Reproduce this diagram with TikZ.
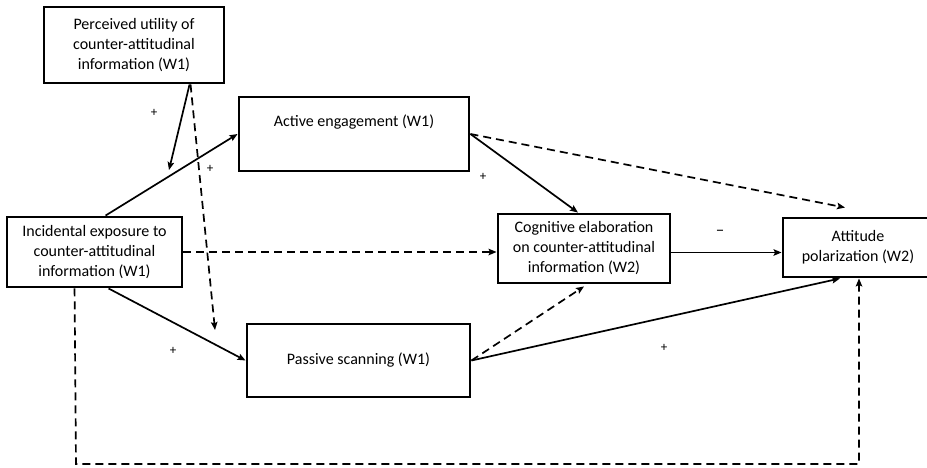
\documentclass[tikz,border=0pt]{standalone}
\usepackage{fontspec}
\setmainfont{Carlito}
\usetikzlibrary{arrows.meta}
\begin{document}
\begin{tikzpicture}[x=1pt,y=-1pt,
  box/.style={draw=black,line width=2.9pt,rectangle,align=center,inner sep=0pt,
    font=\fontsize{16}{20}\selectfont},
  arr/.style={line width=1.7pt,-{Stealth[length=8pt,width=6.5pt,inset=1.5pt]}},
  dsh/.style={arr,dash pattern=on 8pt off 5pt},
  sign/.style={font=\fontsize{13}{15}\selectfont,inner sep=0pt}]
\fill[white] (0,0) rectangle (927,467);
\useasboundingbox (0,0) rectangle (927,467);

\node[box,minimum width=180pt,minimum height=76pt] (perc) at (134,45)
  {Perceived utility of\\counter-attitudinal\\information (W1)};
\node[box,minimum width=230pt,minimum height=74pt] (act) at (354,134)
  {Active engagement (W1)\\\strut};
\node[box,minimum width=223pt,minimum height=73pt] (pas) at (358.5,360.5)
  {Passive scanning (W1)};
\node[box,minimum width=175pt,minimum height=70pt] (inc) at (94.5,252)
  {Incidental exposure to\\counter-attitudinal\\information (W1)};
\node[box,minimum width=172pt,minimum height=69pt] (cog) at (584,248.5)
  {Cognitive elaboration\\on counter-attitudinal\\information (W2)};
\node[box,minimum width=150pt,minimum height=59pt] (att) at (858,247.5)
  {Attitude\\polarization (W2)};

\coordinate (tipA) at (169,170);
\coordinate (tipB) at (215,330);
\coordinate (c1) at ([yshift=-4pt]cog.east);
\coordinate (lb) at (76,464);

\draw[arr] ([xshift=147pt]perc.south west) -- (tipA);
\draw[dsh] ([xshift=148pt]perc.south west) -- (tipB);
\draw[arr] ([xshift=100pt]inc.north west) -- (act.west);
\draw[arr] ([xshift=103pt]inc.south west) -- (pas.west);
\draw[dsh] (inc.east) -- (inc.east -| cog.west);
\draw[arr] (act.east) -- ([xshift=-6pt]cog.north);
\draw[dsh] (act.east) -- ([xshift=-13pt,yshift=9pt]att.north);
\draw[arr] (c1) -- (c1 -| att.west);
\draw[dsh] (pas.east) -- ([yshift=-2pt]cog.south);
\draw[arr] (pas.east) -- ([xshift=-18pt]att.south);
\draw[dsh] ([xshift=69pt]inc.south west) -- (lb) -| ([xshift=1pt]att.south);

\node[sign] (s1) at (154,113) {+};
\node[sign] (s2) at (210,169) {+};
\node[sign] (s3) at (173,351) {+};
\node[sign] (s4) at (483,177) {+};
\node[sign,font=\fontsize{17}{19}\selectfont] (s5) at (720,233) {–};
\node[sign] (s6) at (664,348) {+};
\end{tikzpicture}
\end{document}
